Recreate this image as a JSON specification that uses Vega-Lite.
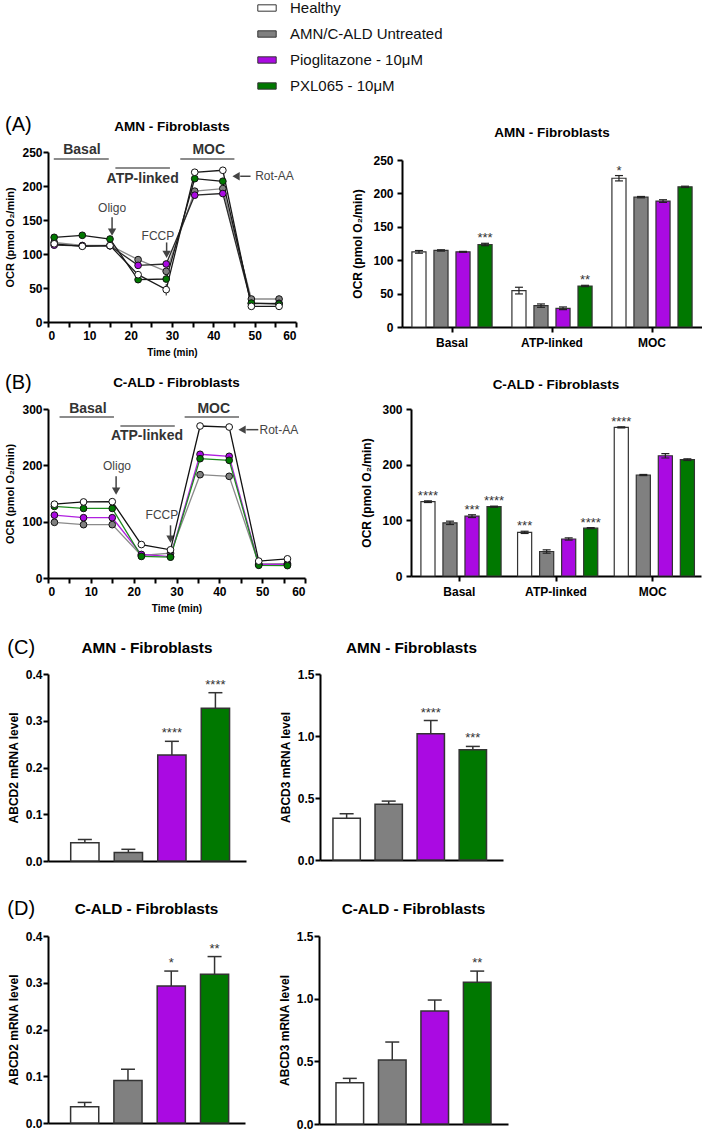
{
  "$schema": "https://vega.github.io/schema/vega-lite/v6.json",
  "padding": {"left": 4, "top": 0, "right": 0, "bottom": 0},
  "background": "white",
  "config": {
    "font": "Liberation Sans",
    "view": {"stroke": null},
    "axis": {"grid": false, "domainColor": "#000", "domainWidth": 2, "tickColor": "#000", "tickWidth": 2, "tickSize": 5,
      "labelFont": "Liberation Sans", "titleFont": "Liberation Sans", "labelFontWeight": "bold", "titleFontWeight": "bold",
      "labelColor": "#000", "titleColor": "#000", "labelFontSize": 12, "titleFontSize": 11, "labelPadding": 1, "titlePadding": 5},
    "title": {"font": "Liberation Sans", "fontWeight": "bold", "color": "#000", "anchor": "middle", "frame": "group"},
    "legend": {"orient": "none", "legendX": 211, "legendY": -118, "labelFont": "Liberation Sans", "labelFontSize": 15, "labelColor": "#111",
      "symbolType": "M-1.3,-0.45H1.3V0.45H-1.3Z", "symbolSize": 200, "symbolStrokeColor": "#333", "symbolStrokeWidth": 1, "rowPadding": 10, "labelOffset": 15}
  },
  "datasets": {
    "lineA": [
      {"group": "AMN/C-ALD Untreated", "t": 1.5, "v": 117}, {"group": "AMN/C-ALD Untreated", "t": 8.3, "v": 112.5}, {"group": "AMN/C-ALD Untreated", "t": 15, "v": 112.5}, {"group": "AMN/C-ALD Untreated", "t": 21.8, "v": 91.7}, {"group": "AMN/C-ALD Untreated", "t": 28.6, "v": 74.5}, {"group": "AMN/C-ALD Untreated", "t": 35.5, "v": 192.4}, {"group": "AMN/C-ALD Untreated", "t": 42.3, "v": 196.2}, {"group": "AMN/C-ALD Untreated", "t": 49.2, "v": 33.8}, {"group": "AMN/C-ALD Untreated", "t": 55.9, "v": 33.8},
      {"group": "Pioglitazone - 10μM", "t": 1.5, "v": 113}, {"group": "Pioglitazone - 10μM", "t": 8.3, "v": 112}, {"group": "Pioglitazone - 10μM", "t": 15, "v": 112}, {"group": "Pioglitazone - 10μM", "t": 21.8, "v": 83.3}, {"group": "Pioglitazone - 10μM", "t": 28.6, "v": 85.3}, {"group": "Pioglitazone - 10μM", "t": 35.5, "v": 186.5}, {"group": "Pioglitazone - 10μM", "t": 42.3, "v": 188.9}, {"group": "Pioglitazone - 10μM", "t": 49.2, "v": 27}, {"group": "Pioglitazone - 10μM", "t": 55.9, "v": 27.5},
      {"group": "PXL065 - 10μM", "t": 1.5, "v": 124.5}, {"group": "PXL065 - 10μM", "t": 8.3, "v": 127.5}, {"group": "PXL065 - 10μM", "t": 15, "v": 122}, {"group": "PXL065 - 10μM", "t": 21.8, "v": 62.3}, {"group": "PXL065 - 10μM", "t": 28.6, "v": 63.2}, {"group": "PXL065 - 10μM", "t": 35.5, "v": 210.8}, {"group": "PXL065 - 10μM", "t": 42.3, "v": 207}, {"group": "PXL065 - 10μM", "t": 49.2, "v": 27.8}, {"group": "PXL065 - 10μM", "t": 55.9, "v": 26.5},
      {"group": "Healthy", "t": 1.5, "v": 115}, {"group": "Healthy", "t": 8.3, "v": 111.3}, {"group": "Healthy", "t": 15, "v": 112.3}, {"group": "Healthy", "t": 21.8, "v": 69.6}, {"group": "Healthy", "t": 28.6, "v": 47.6}, {"group": "Healthy", "t": 35.5, "v": 220.2}, {"group": "Healthy", "t": 42.3, "v": 223.1}, {"group": "Healthy", "t": 49.2, "v": 23}, {"group": "Healthy", "t": 55.9, "v": 23}
    ],
    "lineB": [
      {"group": "AMN/C-ALD Untreated", "t": 1.5, "v": 98.8}, {"group": "AMN/C-ALD Untreated", "t": 8.3, "v": 94.7}, {"group": "AMN/C-ALD Untreated", "t": 15, "v": 94.7}, {"group": "AMN/C-ALD Untreated", "t": 21.8, "v": 40}, {"group": "AMN/C-ALD Untreated", "t": 28.6, "v": 44}, {"group": "AMN/C-ALD Untreated", "t": 35.5, "v": 183.4}, {"group": "AMN/C-ALD Untreated", "t": 42.3, "v": 180.5}, {"group": "AMN/C-ALD Untreated", "t": 49.2, "v": 25}, {"group": "AMN/C-ALD Untreated", "t": 55.9, "v": 25.5},
      {"group": "Pioglitazone - 10μM", "t": 1.5, "v": 111.6}, {"group": "Pioglitazone - 10μM", "t": 8.3, "v": 107}, {"group": "Pioglitazone - 10μM", "t": 15, "v": 107}, {"group": "Pioglitazone - 10μM", "t": 21.8, "v": 41.8}, {"group": "Pioglitazone - 10μM", "t": 28.6, "v": 38}, {"group": "Pioglitazone - 10μM", "t": 35.5, "v": 219.6}, {"group": "Pioglitazone - 10μM", "t": 42.3, "v": 216}, {"group": "Pioglitazone - 10μM", "t": 49.2, "v": 24}, {"group": "Pioglitazone - 10μM", "t": 55.9, "v": 24},
      {"group": "PXL065 - 10μM", "t": 1.5, "v": 127}, {"group": "PXL065 - 10μM", "t": 8.3, "v": 123.5}, {"group": "PXL065 - 10μM", "t": 15, "v": 123.5}, {"group": "PXL065 - 10μM", "t": 21.8, "v": 38.3}, {"group": "PXL065 - 10μM", "t": 28.6, "v": 37}, {"group": "PXL065 - 10μM", "t": 35.5, "v": 211.8}, {"group": "PXL065 - 10μM", "t": 42.3, "v": 208.9}, {"group": "PXL065 - 10μM", "t": 49.2, "v": 22.5}, {"group": "PXL065 - 10μM", "t": 55.9, "v": 22},
      {"group": "Healthy", "t": 1.5, "v": 131}, {"group": "Healthy", "t": 8.3, "v": 135}, {"group": "Healthy", "t": 15, "v": 135.5}, {"group": "Healthy", "t": 21.8, "v": 59.4}, {"group": "Healthy", "t": 28.6, "v": 50}, {"group": "Healthy", "t": 35.5, "v": 269.8}, {"group": "Healthy", "t": 42.3, "v": 268}, {"group": "Healthy", "t": 49.2, "v": 30}, {"group": "Healthy", "t": 55.9, "v": 34}
    ],
    "errA": [{"t": 28.6, "v": 39, "v2": 56}, {"t": 35.5, "v": 216, "v2": 224.5}, {"t": 42.3, "v": 219, "v2": 227}],
    "errB": [{"t": 35.5, "v": 214, "v2": 225}],
    "segA": [{"t": 1.4, "t2": 14.7, "v": 239.7}, {"t": 16.3, "t2": 29.5, "v": 226.5}, {"t": 32, "t2": 45.1, "v": 239.7}],
    "phaseA": [{"label": "Basal", "t": 8.2, "v": 252.4}, {"label": "ATP-linked", "t": 22.9, "v": 210.8}, {"label": "MOC", "t": 38.9, "v": 252.4}],
    "injA": [{"label": "Oligo", "t": 15.5, "v": 167}, {"label": "FCCP", "t": 26.6, "v": 127}, {"label": "Rot-AA", "t": 54.8, "v": 214.3}],
    "arrowA": [{"t": 15.5, "t2": 15.5, "v": 154, "v2": 135}, {"t": 28.7, "t2": 28.7, "v": 117, "v2": 102}, {"t": 49, "t2": 46.5, "v": 214.3, "v2": 214.3}],
    "headA": [{"t": 15.5, "v": 132, "dir": "down"}, {"t": 28.7, "v": 99.5, "dir": "down"}, {"t": 45.5, "v": 214.3, "dir": "left"}],
    "segB": [{"t": 2.7, "t2": 15.4, "v": 285.8}, {"t": 16.9, "t2": 29.6, "v": 269.8}, {"t": 31.9, "t2": 44.6, "v": 285.8}],
    "phaseB": [{"label": "Basal", "t": 9.3, "v": 300.5}, {"label": "ATP-linked", "t": 23.1, "v": 252}, {"label": "MOC", "t": 38.7, "v": 300.5}],
    "injB": [{"label": "Oligo", "t": 16.1, "v": 198.3}, {"label": "FCCP", "t": 26.6, "v": 111.3}, {"label": "Rot-AA", "t": 53.9, "v": 263.3}],
    "arrowB": [{"t": 15.9, "t2": 15.9, "v": 180.5, "v2": 158}, {"t": 28.6, "t2": 28.6, "v": 93.5, "v2": 74}, {"t": 49.1, "t2": 46.3, "v": 263.3, "v2": 263.3}],
    "headB": [{"t": 15.9, "v": 154, "dir": "down"}, {"t": 28.6, "v": 69, "dir": "down"}, {"t": 45.3, "v": 263.3, "dir": "left"}],
    "barA": [
      {"metric": "Basal", "group": "Healthy", "v": 112.5, "lo": 110.5, "hi": 114.5, "sig": ""},
      {"metric": "Basal", "group": "AMN/C-ALD Untreated", "v": 114.6, "lo": 113.6, "hi": 115.6, "sig": ""},
      {"metric": "Basal", "group": "Pioglitazone - 10μM", "v": 112.5, "lo": 111.8, "hi": 113.2, "sig": ""},
      {"metric": "Basal", "group": "PXL065 - 10μM", "v": 123.5, "lo": 121.7, "hi": 125.3, "sig": "***"},
      {"metric": "ATP-linked", "group": "Healthy", "v": 54.5, "lo": 49.5, "hi": 59.5, "sig": ""},
      {"metric": "ATP-linked", "group": "AMN/C-ALD Untreated", "v": 32, "lo": 29.5, "hi": 34.5, "sig": ""},
      {"metric": "ATP-linked", "group": "Pioglitazone - 10μM", "v": 28, "lo": 26, "hi": 30, "sig": ""},
      {"metric": "ATP-linked", "group": "PXL065 - 10μM", "v": 61.4, "lo": 60.4, "hi": 62.4, "sig": "**"},
      {"metric": "MOC", "group": "Healthy", "v": 222.7, "lo": 218.7, "hi": 226.7, "sig": "*"},
      {"metric": "MOC", "group": "AMN/C-ALD Untreated", "v": 194.4, "lo": 193.4, "hi": 195.4, "sig": ""},
      {"metric": "MOC", "group": "Pioglitazone - 10μM", "v": 188.5, "lo": 186.5, "hi": 190.5, "sig": ""},
      {"metric": "MOC", "group": "PXL065 - 10μM", "v": 209.8, "lo": 208.8, "hi": 210.8, "sig": ""}
    ],
    "barB": [
      {"metric": "Basal", "group": "Healthy", "v": 133.5, "lo": 132, "hi": 135, "sig": "****"},
      {"metric": "Basal", "group": "AMN/C-ALD Untreated", "v": 95.5, "lo": 92.5, "hi": 98.5, "sig": ""},
      {"metric": "Basal", "group": "Pioglitazone - 10μM", "v": 107.5, "lo": 105, "hi": 110, "sig": "***"},
      {"metric": "Basal", "group": "PXL065 - 10μM", "v": 124.5, "lo": 123.5, "hi": 125.5, "sig": "****"},
      {"metric": "ATP-linked", "group": "Healthy", "v": 78.4, "lo": 76.4, "hi": 80.4, "sig": "***"},
      {"metric": "ATP-linked", "group": "AMN/C-ALD Untreated", "v": 44, "lo": 41, "hi": 47, "sig": ""},
      {"metric": "ATP-linked", "group": "Pioglitazone - 10μM", "v": 66.5, "lo": 64.5, "hi": 68.5, "sig": ""},
      {"metric": "ATP-linked", "group": "PXL065 - 10μM", "v": 86, "lo": 85, "hi": 87, "sig": "****"},
      {"metric": "MOC", "group": "Healthy", "v": 267, "lo": 266, "hi": 268, "sig": "****"},
      {"metric": "MOC", "group": "AMN/C-ALD Untreated", "v": 181.4, "lo": 180.4, "hi": 182.4, "sig": ""},
      {"metric": "MOC", "group": "Pioglitazone - 10μM", "v": 216, "lo": 212, "hi": 220, "sig": ""},
      {"metric": "MOC", "group": "PXL065 - 10μM", "v": 209, "lo": 207.5, "hi": 210.5, "sig": ""}
    ],
    "c1": [
      {"group": "Healthy", "v": 0.039, "hi": 0.046, "sig": ""},
      {"group": "AMN/C-ALD Untreated", "v": 0.018, "hi": 0.025, "sig": ""},
      {"group": "Pioglitazone - 10μM", "v": 0.227, "hi": 0.256, "sig": "****"},
      {"group": "PXL065 - 10μM", "v": 0.327, "hi": 0.36, "sig": "****"}
    ],
    "c2": [
      {"group": "Healthy", "v": 0.336, "hi": 0.373, "sig": ""},
      {"group": "AMN/C-ALD Untreated", "v": 0.449, "hi": 0.475, "sig": ""},
      {"group": "Pioglitazone - 10μM", "v": 1.018, "hi": 1.125, "sig": "****"},
      {"group": "PXL065 - 10μM", "v": 0.889, "hi": 0.916, "sig": "***"}
    ],
    "d1": [
      {"group": "Healthy", "v": 0.035, "hi": 0.044, "sig": ""},
      {"group": "AMN/C-ALD Untreated", "v": 0.091, "hi": 0.115, "sig": ""},
      {"group": "Pioglitazone - 10μM", "v": 0.293, "hi": 0.325, "sig": "*"},
      {"group": "PXL065 - 10μM", "v": 0.318, "hi": 0.356, "sig": "**"}
    ],
    "d2": [
      {"group": "Healthy", "v": 0.33, "hi": 0.364, "sig": ""},
      {"group": "AMN/C-ALD Untreated", "v": 0.511, "hi": 0.654, "sig": ""},
      {"group": "Pioglitazone - 10μM", "v": 0.902, "hi": 0.989, "sig": ""},
      {"group": "PXL065 - 10μM", "v": 1.13, "hi": 1.22, "sig": "**"}
    ]
  },
  "spacing": 24,
  "vconcat": [
    {
      "spacing": 16,
      "resolve": {"scale": {"stroke": "independent"}, "legend": {"stroke": "independent"}},
      "vconcat": [
        {
          "title": {"text": "(A)", "anchor": "start", "frame": "bounds", "fontSize": 20, "fontWeight": "normal", "offset": -17},
          "spacing": 54,
          "hconcat": [
            {"spacing": 0, "vconcat": [
            {"width": 1, "height": 1, "data": {"values": []}, "mark": "point"},
            {
              "width": 248, "height": 170,
              "title": {"text": "AMN - Fibroblasts", "fontSize": 13.5, "offset": 10},
              "encoding": {
                "x": {"field": "t", "type": "quantitative", "scale": {"domain": [0, 60], "nice": false},
                  "axis": {"title": "Time (min)", "titleFontSize": 10, "titlePadding": 6, "labelPadding": 3, "values": [0, 5, 10, 15, 20, 25, 30, 35, 40, 45, 50, 55, 60], "labelExpr": "datum.value % 10 === 0 ? datum.label : ''"}},
                "y": {"field": "v", "type": "quantitative", "scale": {"domain": [0, 250], "nice": false},
                  "axis": {"title": "OCR (pmol O₂/min)", "titlePadding": 6, "values": [0, 50, 100, 150, 200, 250]}}
              },
              "layer": [
                {"data": {"name": "segA"}, "mark": {"type": "rule", "color": "#666", "strokeWidth": 1.5}, "encoding": {"x2": {"field": "t2"}}},
                {"data": {"name": "phaseA"}, "mark": {"type": "text", "fontSize": 14, "fontWeight": "bold", "color": "#333"}, "encoding": {"text": {"field": "label"}}},
                {"data": {"name": "injA"}, "mark": {"type": "text", "fontSize": 12, "color": "#444"}, "encoding": {"text": {"field": "label"}}},
                {"data": {"name": "arrowA"}, "mark": {"type": "rule", "color": "#444", "strokeWidth": 1.5}, "encoding": {"x2": {"field": "t2"}, "y2": {"field": "v2"}}},
                {"data": {"name": "headA"}, "transform": [{"filter": "datum.dir === 'down'"}], "mark": {"type": "point", "shape": "triangle-down", "filled": true, "color": "#444", "size": 70, "opacity": 1}},
                {"data": {"name": "headA"}, "transform": [{"filter": "datum.dir === 'left'"}], "mark": {"type": "point", "shape": "triangle-left", "filled": true, "color": "#444", "size": 70, "opacity": 1}},
                {"data": {"name": "lineA"}, "mark": {"type": "line", "strokeWidth": 1.3},
                  "encoding": {"stroke": {"field": "group", "type": "nominal", "scale": {"domain": ["Healthy", "AMN/C-ALD Untreated", "Pioglitazone - 10μM", "PXL065 - 10μM"], "range": ["#1a1a1a", "#8a8a8a", "#2a2a2a", "#1a1a1a"]}, "legend": null}}},
                {"data": {"name": "errA"}, "mark": {"type": "rule", "color": "#222", "strokeWidth": 1}, "encoding": {"y2": {"field": "v2"}}},
                {"data": {"name": "lineA"}, "mark": {"type": "circle", "size": 45, "opacity": 1, "stroke": "#111", "strokeWidth": 1},
                  "encoding": {"fill": {"field": "group", "type": "nominal", "scale": {"domain": ["Healthy", "AMN/C-ALD Untreated", "Pioglitazone - 10μM", "PXL065 - 10μM"], "range": ["#ffffff", "#808080", "#aa0ae2", "#007800"]}, "legend": {"title": null}}}}
              ]
            }]},
            {"spacing": 0, "vconcat": [
            {"width": 1, "height": 1, "data": {"values": []}, "mark": "point"},
            {
              "width": 300, "height": 167,
              "title": {"text": [" ", "AMN - Fibroblasts"], "fontSize": 13.5, "lineHeight": 6, "offset": 15},
              "data": {"name": "barA"},
              "encoding": {
                "x": {"field": "metric", "type": "nominal", "sort": ["Basal", "ATP-linked", "MOC"], "scale": {"paddingInner": 0, "paddingOuter": 0}, "axis": {"title": null, "labelAngle": 0, "labelPadding": 5}},
                "xOffset": {"field": "group", "type": "nominal", "scale": {"domain": ["Healthy", "AMN/C-ALD Untreated", "Pioglitazone - 10μM", "PXL065 - 10μM"], "paddingInner": 0.36, "paddingOuter": 0.45}}
              },
              "layer": [
                {"mark": {"type": "bar", "stroke": "#333", "strokeWidth": 1.2},
                  "encoding": {"y": {"field": "v", "type": "quantitative", "scale": {"domain": [0, 250], "nice": false}, "axis": {"title": "OCR (pmol O₂/min)", "titleFontSize": 12, "labelPadding": 4, "titlePadding": 8, "values": [0, 50, 100, 150, 200, 250]}},
                    "fill": {"field": "group", "type": "nominal", "scale": {"domain": ["Healthy", "AMN/C-ALD Untreated", "Pioglitazone - 10μM", "PXL065 - 10μM"], "range": ["#ffffff", "#808080", "#aa0ae2", "#007800"]}, "legend": {"title": null}}}},
                {"mark": {"type": "rule", "color": "#222", "strokeWidth": 1.2}, "encoding": {"y": {"field": "lo", "type": "quantitative", "axis": {"title": "OCR (pmol O₂/min)", "titleFontSize": 12, "labelPadding": 4, "titlePadding": 8, "values": [0, 50, 100, 150, 200, 250]}}, "y2": {"field": "hi"}}},
                {"mark": {"type": "tick", "color": "#222", "thickness": 1.2, "size": 8, "opacity": 1}, "encoding": {"y": {"field": "hi", "type": "quantitative", "axis": {"title": "OCR (pmol O₂/min)", "titleFontSize": 12, "labelPadding": 4, "titlePadding": 8, "values": [0, 50, 100, 150, 200, 250]}}}},
                {"mark": {"type": "tick", "color": "#222", "thickness": 1.2, "size": 8, "opacity": 1}, "encoding": {"y": {"field": "lo", "type": "quantitative", "axis": {"title": "OCR (pmol O₂/min)", "titleFontSize": 12, "labelPadding": 4, "titlePadding": 8, "values": [0, 50, 100, 150, 200, 250]}}}},
                {"mark": {"type": "text", "fontSize": 13, "color": "#333", "baseline": "alphabetic", "dy": -1}, "encoding": {"y": {"field": "hi", "type": "quantitative", "axis": {"title": "OCR (pmol O₂/min)", "titleFontSize": 12, "labelPadding": 4, "titlePadding": 8, "values": [0, 50, 100, 150, 200, 250]}}, "text": {"field": "sig"}}}
              ]
            }]}
          ]
        },
        {
          "title": {"text": "(B)", "anchor": "start", "frame": "bounds", "fontSize": 20, "fontWeight": "normal", "offset": -17},
          "spacing": 54,
          "hconcat": [
            {
              "width": 257, "height": 169,
              "title": {"text": "C-ALD - Fibroblasts", "fontSize": 13.5, "offset": 12},
              "encoding": {
                "x": {"field": "t", "type": "quantitative", "scale": {"domain": [0, 60], "nice": false},
                  "axis": {"title": "Time (min)", "titleFontSize": 10, "titlePadding": 6, "labelPadding": 3, "values": [0, 5, 10, 15, 20, 25, 30, 35, 40, 45, 50, 55, 60], "labelExpr": "datum.value % 10 === 0 ? datum.label : ''"}},
                "y": {"field": "v", "type": "quantitative", "scale": {"domain": [0, 300], "nice": false},
                  "axis": {"title": "OCR (pmol O₂/min)", "titlePadding": 6, "values": [0, 100, 200, 300]}}
              },
              "layer": [
                {"data": {"name": "segB"}, "mark": {"type": "rule", "color": "#666", "strokeWidth": 1.5}, "encoding": {"x2": {"field": "t2"}}},
                {"data": {"name": "phaseB"}, "mark": {"type": "text", "fontSize": 14, "fontWeight": "bold", "color": "#333"}, "encoding": {"text": {"field": "label"}}},
                {"data": {"name": "injB"}, "mark": {"type": "text", "fontSize": 12, "color": "#444"}, "encoding": {"text": {"field": "label"}}},
                {"data": {"name": "arrowB"}, "mark": {"type": "rule", "color": "#444", "strokeWidth": 1.5}, "encoding": {"x2": {"field": "t2"}, "y2": {"field": "v2"}}},
                {"data": {"name": "headB"}, "transform": [{"filter": "datum.dir === 'down'"}], "mark": {"type": "point", "shape": "triangle-down", "filled": true, "color": "#444", "size": 70, "opacity": 1}},
                {"data": {"name": "headB"}, "transform": [{"filter": "datum.dir === 'left'"}], "mark": {"type": "point", "shape": "triangle-left", "filled": true, "color": "#444", "size": 70, "opacity": 1}},
                {"data": {"name": "lineB"}, "mark": {"type": "line", "strokeWidth": 1.3},
                  "encoding": {"stroke": {"field": "group", "type": "nominal", "scale": {"domain": ["Healthy", "AMN/C-ALD Untreated", "Pioglitazone - 10μM", "PXL065 - 10μM"], "range": ["#111111", "#8a8a8a", "#b020e0", "#1e8a1e"]}, "legend": null}}},
                {"data": {"name": "errB"}, "mark": {"type": "rule", "color": "#222", "strokeWidth": 1}, "encoding": {"y2": {"field": "v2"}}},
                {"data": {"name": "lineB"}, "mark": {"type": "circle", "size": 45, "opacity": 1, "stroke": "#111", "strokeWidth": 1},
                  "encoding": {"fill": {"field": "group", "type": "nominal", "scale": {"domain": ["Healthy", "AMN/C-ALD Untreated", "Pioglitazone - 10μM", "PXL065 - 10μM"], "range": ["#ffffff", "#808080", "#aa0ae2", "#007800"]}, "legend": {"title": null}}}}
              ]
            },
            {
              "width": 290, "height": 167,
              "title": {"text": "C-ALD - Fibroblasts", "fontSize": 13.5, "offset": 12},
              "data": {"name": "barB"},
              "encoding": {
                "x": {"field": "metric", "type": "nominal", "sort": ["Basal", "ATP-linked", "MOC"], "scale": {"paddingInner": 0, "paddingOuter": 0}, "axis": {"title": null, "labelAngle": 0, "labelPadding": 5}},
                "xOffset": {"field": "group", "type": "nominal", "scale": {"domain": ["Healthy", "AMN/C-ALD Untreated", "Pioglitazone - 10μM", "PXL065 - 10μM"], "paddingInner": 0.36, "paddingOuter": 0.45}}
              },
              "layer": [
                {"mark": {"type": "bar", "stroke": "#333", "strokeWidth": 1.2},
                  "encoding": {"y": {"field": "v", "type": "quantitative", "scale": {"domain": [0, 300], "nice": false}, "axis": {"title": "OCR (pmol O₂/min)", "titleFontSize": 12, "labelPadding": 4, "titlePadding": 8, "values": [0, 100, 200, 300]}},
                    "fill": {"field": "group", "type": "nominal", "scale": {"domain": ["Healthy", "AMN/C-ALD Untreated", "Pioglitazone - 10μM", "PXL065 - 10μM"], "range": ["#ffffff", "#808080", "#aa0ae2", "#007800"]}, "legend": {"title": null}}}},
                {"mark": {"type": "rule", "color": "#222", "strokeWidth": 1.2}, "encoding": {"y": {"field": "lo", "type": "quantitative", "axis": {"title": "OCR (pmol O₂/min)", "titleFontSize": 12, "labelPadding": 4, "titlePadding": 8, "values": [0, 100, 200, 300]}}, "y2": {"field": "hi"}}},
                {"mark": {"type": "tick", "color": "#222", "thickness": 1.2, "size": 8, "opacity": 1}, "encoding": {"y": {"field": "hi", "type": "quantitative", "axis": {"title": "OCR (pmol O₂/min)", "titleFontSize": 12, "labelPadding": 4, "titlePadding": 8, "values": [0, 100, 200, 300]}}}},
                {"mark": {"type": "tick", "color": "#222", "thickness": 1.2, "size": 8, "opacity": 1}, "encoding": {"y": {"field": "lo", "type": "quantitative", "axis": {"title": "OCR (pmol O₂/min)", "titleFontSize": 12, "labelPadding": 4, "titlePadding": 8, "values": [0, 100, 200, 300]}}}},
                {"mark": {"type": "text", "fontSize": 13, "color": "#333", "baseline": "alphabetic", "dy": -1}, "encoding": {"y": {"field": "hi", "type": "quantitative", "axis": {"title": "OCR (pmol O₂/min)", "titleFontSize": 12, "labelPadding": 4, "titlePadding": 8, "values": [0, 100, 200, 300]}}, "text": {"field": "sig"}}}
              ]
            }
          ]
        }
      ]
    },
    {
      "spacing": 31,
      "vconcat": [
        {
          "title": {"text": "(C)", "anchor": "start", "frame": "bounds", "fontSize": 20, "fontWeight": "normal", "offset": -17},
          "spacing": 33,
          "hconcat": [
            {
              "width": 198, "height": 187,
              "title": {"text": "AMN - Fibroblasts", "fontSize": 15.3, "offset": 12},
              "data": {"name": "c1"},
              "encoding": {"x": {"field": "group", "type": "nominal", "scale": {"domain": ["Healthy", "AMN/C-ALD Untreated", "Pioglitazone - 10μM", "PXL065 - 10μM"], "paddingInner": 0.35, "paddingOuter": 0.45, "align": 0.58}, "axis": {"labels": false, "ticks": false, "title": null}}},
              "layer": [
                {"mark": {"type": "bar", "stroke": "#333", "strokeWidth": 1.5},
                  "encoding": {"y": {"field": "v", "type": "quantitative", "scale": {"domain": [0, 0.4], "nice": false}, "axis": {"title": "ABCD2 mRNA level", "titleFontSize": 12, "values": [0, 0.1, 0.2, 0.3, 0.4], "format": ".1f"}},
                    "fill": {"field": "group", "type": "nominal", "scale": {"domain": ["Healthy", "AMN/C-ALD Untreated", "Pioglitazone - 10μM", "PXL065 - 10μM"], "range": ["#ffffff", "#808080", "#aa0ae2", "#007800"]}, "legend": {"title": null}}}},
                {"mark": {"type": "rule", "color": "#333", "strokeWidth": 1.5}, "encoding": {"y": {"field": "v", "type": "quantitative", "axis": {"title": "ABCD2 mRNA level", "titleFontSize": 12, "values": [0, 0.1, 0.2, 0.3, 0.4], "format": ".1f"}}, "y2": {"field": "hi"}}},
                {"mark": {"type": "tick", "color": "#333", "thickness": 1.5, "size": 14, "opacity": 1}, "encoding": {"y": {"field": "hi", "type": "quantitative", "axis": {"title": "ABCD2 mRNA level", "titleFontSize": 12, "values": [0, 0.1, 0.2, 0.3, 0.4], "format": ".1f"}}}},
                {"mark": {"type": "text", "fontSize": 13, "color": "#333", "baseline": "alphabetic", "dy": -4}, "encoding": {"y": {"field": "hi", "type": "quantitative", "axis": {"title": "ABCD2 mRNA level", "titleFontSize": 12, "values": [0, 0.1, 0.2, 0.3, 0.4], "format": ".1f"}}, "text": {"field": "sig"}}}
              ]
            },
            {
              "width": 183, "height": 186,
              "title": {"text": "AMN - Fibroblasts", "fontSize": 15.3, "offset": 12},
              "data": {"name": "c2"},
              "encoding": {"x": {"field": "group", "type": "nominal", "scale": {"domain": ["Healthy", "AMN/C-ALD Untreated", "Pioglitazone - 10μM", "PXL065 - 10μM"], "paddingInner": 0.35, "paddingOuter": 0.35, "align": 0.44}, "axis": {"labels": false, "ticks": false, "title": null}}},
              "layer": [
                {"mark": {"type": "bar", "stroke": "#333", "strokeWidth": 1.5},
                  "encoding": {"y": {"field": "v", "type": "quantitative", "scale": {"domain": [0, 1.5], "nice": false}, "axis": {"title": "ABCD3 mRNA level", "titleFontSize": 12, "values": [0, 0.5, 1, 1.5], "format": ".1f"}},
                    "fill": {"field": "group", "type": "nominal", "scale": {"domain": ["Healthy", "AMN/C-ALD Untreated", "Pioglitazone - 10μM", "PXL065 - 10μM"], "range": ["#ffffff", "#808080", "#aa0ae2", "#007800"]}, "legend": {"title": null}}}},
                {"mark": {"type": "rule", "color": "#333", "strokeWidth": 1.5}, "encoding": {"y": {"field": "v", "type": "quantitative", "axis": {"title": "ABCD3 mRNA level", "titleFontSize": 12, "values": [0, 0.5, 1, 1.5], "format": ".1f"}}, "y2": {"field": "hi"}}},
                {"mark": {"type": "tick", "color": "#333", "thickness": 1.5, "size": 14, "opacity": 1}, "encoding": {"y": {"field": "hi", "type": "quantitative", "axis": {"title": "ABCD3 mRNA level", "titleFontSize": 12, "values": [0, 0.5, 1, 1.5], "format": ".1f"}}}},
                {"mark": {"type": "text", "fontSize": 13, "color": "#333", "baseline": "alphabetic", "dy": -4}, "encoding": {"y": {"field": "hi", "type": "quantitative", "axis": {"title": "ABCD3 mRNA level", "titleFontSize": 12, "values": [0, 0.5, 1, 1.5], "format": ".1f"}}, "text": {"field": "sig"}}}
              ]
            }
          ]
        },
        {
          "title": {"text": "(D)", "anchor": "start", "frame": "bounds", "fontSize": 20, "fontWeight": "normal", "offset": -17},
          "spacing": 33,
          "hconcat": [
            {
              "width": 197, "height": 187,
              "title": {"text": "C-ALD - Fibroblasts", "fontSize": 15.3, "offset": 13},
              "data": {"name": "d1"},
              "encoding": {"x": {"field": "group", "type": "nominal", "scale": {"domain": ["Healthy", "AMN/C-ALD Untreated", "Pioglitazone - 10μM", "PXL065 - 10μM"], "paddingInner": 0.35, "paddingOuter": 0.45, "align": 0.58}, "axis": {"labels": false, "ticks": false, "title": null}}},
              "layer": [
                {"mark": {"type": "bar", "stroke": "#333", "strokeWidth": 1.5},
                  "encoding": {"y": {"field": "v", "type": "quantitative", "scale": {"domain": [0, 0.4], "nice": false}, "axis": {"title": "ABCD2 mRNA level", "titleFontSize": 12, "values": [0, 0.1, 0.2, 0.3, 0.4], "format": ".1f"}},
                    "fill": {"field": "group", "type": "nominal", "scale": {"domain": ["Healthy", "AMN/C-ALD Untreated", "Pioglitazone - 10μM", "PXL065 - 10μM"], "range": ["#ffffff", "#808080", "#aa0ae2", "#007800"]}, "legend": {"title": null}}}},
                {"mark": {"type": "rule", "color": "#333", "strokeWidth": 1.5}, "encoding": {"y": {"field": "v", "type": "quantitative", "axis": {"title": "ABCD2 mRNA level", "titleFontSize": 12, "values": [0, 0.1, 0.2, 0.3, 0.4], "format": ".1f"}}, "y2": {"field": "hi"}}},
                {"mark": {"type": "tick", "color": "#333", "thickness": 1.5, "size": 14, "opacity": 1}, "encoding": {"y": {"field": "hi", "type": "quantitative", "axis": {"title": "ABCD2 mRNA level", "titleFontSize": 12, "values": [0, 0.1, 0.2, 0.3, 0.4], "format": ".1f"}}}},
                {"mark": {"type": "text", "fontSize": 13, "color": "#333", "baseline": "alphabetic", "dy": -4}, "encoding": {"y": {"field": "hi", "type": "quantitative", "axis": {"title": "ABCD2 mRNA level", "titleFontSize": 12, "values": [0, 0.1, 0.2, 0.3, 0.4], "format": ".1f"}}, "text": {"field": "sig"}}}
              ]
            },
            {
              "width": 189, "height": 188,
              "title": {"text": "C-ALD - Fibroblasts", "fontSize": 15.3, "offset": 13},
              "data": {"name": "d2"},
              "encoding": {"x": {"field": "group", "type": "nominal", "scale": {"domain": ["Healthy", "AMN/C-ALD Untreated", "Pioglitazone - 10μM", "PXL065 - 10μM"], "paddingInner": 0.35, "paddingOuter": 0.4, "align": 0.5}, "axis": {"labels": false, "ticks": false, "title": null}}},
              "layer": [
                {"mark": {"type": "bar", "stroke": "#333", "strokeWidth": 1.5},
                  "encoding": {"y": {"field": "v", "type": "quantitative", "scale": {"domain": [0, 1.5], "nice": false}, "axis": {"title": "ABCD3 mRNA level", "titleFontSize": 12, "values": [0, 0.5, 1, 1.5], "format": ".1f"}},
                    "fill": {"field": "group", "type": "nominal", "scale": {"domain": ["Healthy", "AMN/C-ALD Untreated", "Pioglitazone - 10μM", "PXL065 - 10μM"], "range": ["#ffffff", "#808080", "#aa0ae2", "#007800"]}, "legend": {"title": null}}}},
                {"mark": {"type": "rule", "color": "#333", "strokeWidth": 1.5}, "encoding": {"y": {"field": "v", "type": "quantitative", "axis": {"title": "ABCD3 mRNA level", "titleFontSize": 12, "values": [0, 0.5, 1, 1.5], "format": ".1f"}}, "y2": {"field": "hi"}}},
                {"mark": {"type": "tick", "color": "#333", "thickness": 1.5, "size": 14, "opacity": 1}, "encoding": {"y": {"field": "hi", "type": "quantitative", "axis": {"title": "ABCD3 mRNA level", "titleFontSize": 12, "values": [0, 0.5, 1, 1.5], "format": ".1f"}}}},
                {"mark": {"type": "text", "fontSize": 13, "color": "#333", "baseline": "alphabetic", "dy": -4}, "encoding": {"y": {"field": "hi", "type": "quantitative", "axis": {"title": "ABCD3 mRNA level", "titleFontSize": 12, "values": [0, 0.5, 1, 1.5], "format": ".1f"}}, "text": {"field": "sig"}}}
              ]
            }
          ]
        }
      ]
    }
  ]
}
